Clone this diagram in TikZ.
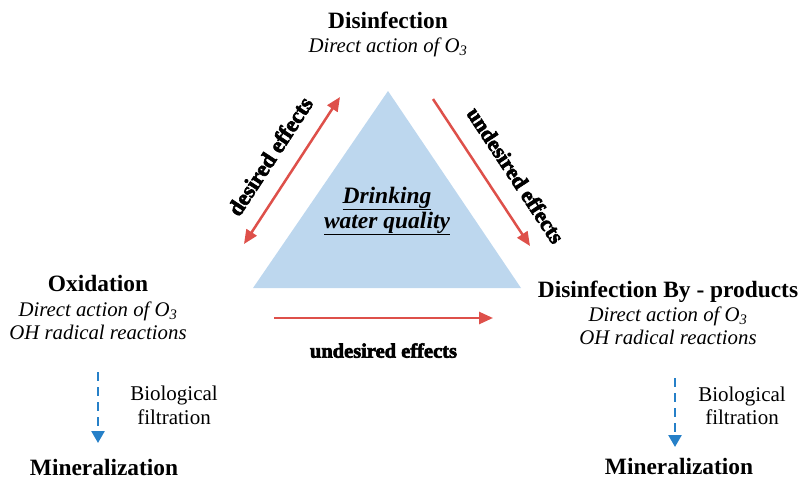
\documentclass[tikz,border=0pt]{standalone}
\usepackage{fontspec}
\setmainfont{Liberation Serif}
\newfontfamily\heavyfont[FakeBold=3]{Liberation Serif Bold}
\usetikzlibrary{arrows.meta,positioning}
\definecolor{effred}{RGB}{222,80,74}
\definecolor{triblue}{RGB}{189,215,238}
\definecolor{filtblue}{RGB}{38,128,200}
\tikzset{
  title/.style={font=\fontsize{23.4}{27}\selectfont\bfseries,inner sep=0pt,text height=15pt,text depth=4pt},
  sub/.style={font=\fontsize{20.8}{24}\selectfont\itshape,inner sep=0pt,text height=14pt,text depth=4pt},
  plain/.style={font=\fontsize{21}{24}\selectfont,inner sep=0pt,text height=14pt,text depth=4pt},
  effarrow/.style={effred,line width=2.5pt,-{Triangle[length=14pt,width=12pt]}},
  efflabel/.style={text=black,font=\fontsize{20.5}{24}\selectfont\heavyfont,inner sep=2pt},
  filtarrow/.style={filtblue,line width=2.5pt,dash pattern=on 9pt off 6pt,-{Triangle[length=12pt,width=13pt]}}
}
\begin{document}
\begin{tikzpicture}[x=1pt,y=1pt]
\useasboundingbox (0,0) rectangle (799,-479);

\coordinate (top) at (388,-91);
\coordinate (left) at (253,-288);
\coordinate (right) at (521,-288);
\fill[triblue] (top) -- (left) -- (right) -- cycle;

\node[font=\fontsize{23.5}{27}\selectfont\bfseries\itshape,align=center] (dwq) at (387,-211)
  {\underline{Drinking}\\[-2pt]\underline{water quality}};

\node[title] (dis) at (388,-23) {Disinfection};
\node[sub] (dis1) [below of=dis,node distance=24pt] {Direct action of O\textsubscript{3}};

\node[title] (oxi) at (98,-286) {Oxidation};
\node[sub] (oxi1) [below of=oxi,node distance=25pt] {Direct action of O\textsubscript{3}};
\node[sub] (oxi2) [below of=oxi1,node distance=23pt] {OH radical reactions};

\node[title] (dbp) at (668,-292) {Disinfection By - products};
\node[sub] (dbp1) [below of=dbp,node distance=24pt] {Direct action of O\textsubscript{3}};
\node[sub] (dbp2) [below of=dbp1,node distance=23pt] {OH radical reactions};

\coordinate (d1) at (244,-244);
\coordinate (d2) at (340,-97);
\coordinate (u1) at (433,-99);
\coordinate (u2) at (530,-246);
\coordinate (b1) at (274,-318);
\coordinate (b2) at (493,-318);

\draw[effarrow,{Triangle[length=14pt,width=12pt]}-{Triangle[length=14pt,width=12pt]}] (d1) -- node[efflabel,font=\fontsize{22.5}{26}\selectfont\heavyfont,sloped,above=15pt,pos=0.5] {desired effects} (d2);
\draw[effarrow] (u1) -- node[efflabel,font=\fontsize{22}{26}\selectfont\heavyfont,sloped,above=16pt,pos=0.62] {undesired effects} (u2);
\draw[effarrow] (b1) -- node[efflabel,below=22pt] {undesired effects} (b2);

\coordinate (lf1) at (98,-372);
\coordinate (lf2) at (98,-443);
\coordinate (rf1) at (675,-378);
\coordinate (rf2) at (675,-447);
\draw[filtarrow] (lf1) -- (lf2);
\draw[filtarrow] (rf1) -- (rf2);

\node[plain] (bio1) at (174,-395) {Biological};
\node[plain] (bio1b) [below of=bio1,node distance=24pt] {filtration};
\node[plain] (bio2) at (742,-396) {Biological};
\node[plain] (bio2b) [below of=bio2,node distance=23pt] {filtration};

\node[title,text depth=0pt] (min1) at (104,-468) {Mineralization};
\node[title,text depth=0pt] (min2) at (679,-467) {Mineralization};
\end{tikzpicture}
\end{document}
